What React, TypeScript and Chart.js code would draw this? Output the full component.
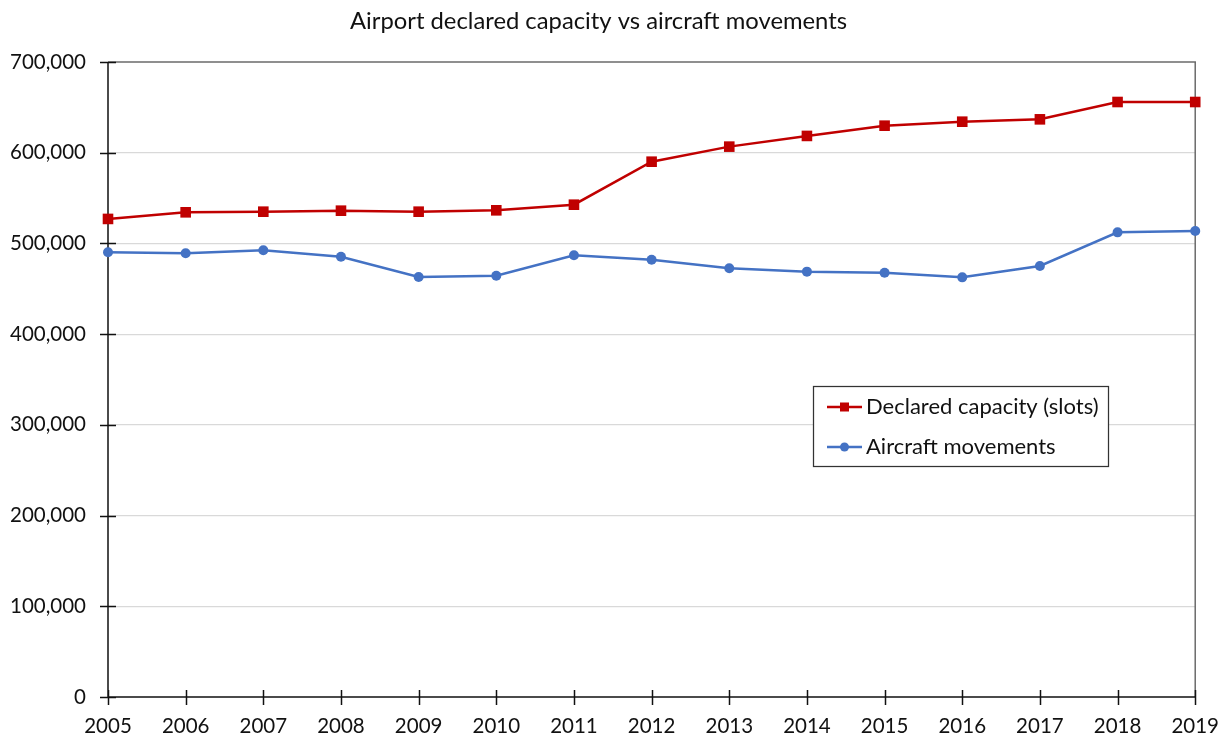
import React, { useEffect, useRef } from "react";
import { Chart, registerables } from "chart.js";

Chart.register(...registerables);

// Years on the horizontal axis
const years = [
  "2005", "2006", "2007", "2008", "2009", "2010", "2011", "2012",
  "2013", "2014", "2015", "2016", "2017", "2018", "2019",
];

// Declared capacity (slots) per year
const declaredCapacity = [
  527000, 534300, 535000, 536100, 535000, 536500, 542700, 590100,
  606700, 618500, 629800, 634200, 636800, 655900, 655900,
];

// Aircraft movements per year
const aircraftMovements = [
  490200, 489100, 492400, 485400, 463000, 464400, 486900, 482100,
  472600, 468900, 467700, 462600, 475100, 512200, 513700,
];

// Value axis range
const yMin = 0;
const yMax = 700000;
const yStep = 100000;

const FONT = "Lato, 'Open Sans', sans-serif";
const TEXT = "#111111";

// Plot frame, with tick marks that cross the axis lines
const framePlugin = {
  id: "frame",
  beforeDatasetsDraw(chart: any) {
    const { ctx, chartArea } = chart;
    const { left, right, top, bottom } = chartArea;
    const xs = chart.scales.x;
    const ys = chart.scales.y;
    ctx.save();
    ctx.lineWidth = 1.5;
    ctx.strokeStyle = "#6b6b6b";
    ctx.beginPath();
    ctx.moveTo(left, top);
    ctx.lineTo(right, top);
    ctx.lineTo(right, bottom);
    ctx.stroke();

    ctx.strokeStyle = "#111111";
    ctx.beginPath();
    ctx.moveTo(left, top);
    ctx.lineTo(left, bottom);
    ctx.lineTo(right, bottom);
    ys.ticks.forEach((t: any) => {
      const y = Math.round(ys.getPixelForValue(t.value)) + 0.5;
      ctx.moveTo(left - 8, y);
      ctx.lineTo(left + 8, y);
    });
    years.forEach((_, i) => {
      const x = Math.round(xs.getPixelForValue(i)) + 0.5;
      ctx.moveTo(x, bottom - 7);
      ctx.lineTo(x, bottom + 8);
    });
    ctx.stroke();
    ctx.restore();
  },
};

// Boxed legend placed inside the plot
const boxLegendPlugin = {
  id: "boxLegend",
  afterDraw(chart: any, _args: any, opts: any) {
    const { ctx } = chart;
    const { left, top, width, height, rowGap, fontSize } = opts;
    ctx.save();
    ctx.fillStyle = "#ffffff";
    ctx.fillRect(left, top, width, height);
    ctx.lineWidth = 1.25;
    ctx.strokeStyle = "#333333";
    ctx.strokeRect(left + 0.5, top + 0.5, width, height);

    ctx.font = `${fontSize}px ${FONT}`;
    ctx.textBaseline = "middle";
    ctx.textAlign = "left";
    chart.data.datasets.forEach((ds: any, i: number) => {
      const cy = top + 21 + i * rowGap;
      const x0 = left + 14;
      const x1 = left + 49;
      ctx.strokeStyle = ds.borderColor;
      ctx.lineWidth = ds.borderWidth;
      ctx.beginPath();
      ctx.moveTo(x0, cy);
      ctx.lineTo(x1, cy);
      ctx.stroke();
      ctx.fillStyle = ds.backgroundColor;
      const cx = (x0 + x1) / 2;
      if (ds.pointStyle === "rect") {
        ctx.fillRect(cx - 4.5, cy - 4.5, 9, 9);
      } else {
        ctx.beginPath();
        ctx.arc(cx, cy, 4.5, 0, Math.PI * 2);
        ctx.fill();
      }
      ctx.fillStyle = TEXT;
      ctx.fillText(ds.label, x1 + 4, cy);
    });
    ctx.restore();
  },
};

export default function App() {
  const canvasRef = useRef<HTMLCanvasElement | null>(null);

  useEffect(() => {
    if (!canvasRef.current) return;
    const chart = new Chart(canvasRef.current, {
      type: "line",
      data: {
        labels: years,
        datasets: [
          {
            label: "Declared capacity (slots)",
            data: declaredCapacity,
            borderColor: "#C00000",
            backgroundColor: "#C00000",
            borderWidth: 2.5,
            pointStyle: "rect",
            pointRadius: 7.5,
            pointBorderWidth: 0,
            tension: 0,
            clip: false,
          } as any,
          {
            label: "Aircraft movements",
            data: aircraftMovements,
            borderColor: "#4472C4",
            backgroundColor: "#4472C4",
            borderWidth: 2.5,
            pointStyle: "circle",
            pointRadius: 5,
            pointBorderWidth: 0,
            tension: 0,
            clip: false,
          } as any,
        ],
      },
      options: {
        animation: false,
        responsive: false,
        devicePixelRatio: 1,
        layout: { padding: { left: 0, right: 31, top: 0, bottom: 0 } },
        plugins: {
          legend: { display: false },
          tooltip: { enabled: false },
          title: {
            display: true,
            text: "Airport declared capacity vs aircraft movements",
            color: TEXT,
            font: { family: FONT, size: 23.8, weight: "normal", lineHeight: 1.2 },
            padding: { top: 7, bottom: 26.44 },
          },
          boxLegend: {
            left: 813,
            top: 386,
            width: 295,
            height: 80,
            rowGap: 40,
            fontSize: 22,
          },
        } as any,
        scales: {
          x: {
            type: "category",
            offset: false,
            grid: { display: false },
            border: { display: false },
            ticks: {
              color: TEXT,
              font: { family: FONT, size: 20.5 },
              padding: 9,
              maxRotation: 0,
              autoSkip: false,
            },
            afterFit(scale: any) {
              scale.height = 43;
            },
          },
          y: {
            min: yMin,
            max: yMax,
            border: { display: false },
            grid: {
              drawTicks: false,
              lineWidth: 1.25,
              color: (c: any) =>
                c.tick && (c.tick.value === yMin || c.tick.value === yMax)
                  ? "rgba(0,0,0,0)"
                  : "#d9d9d9",
            },
            ticks: {
              stepSize: yStep,
              color: TEXT,
              font: { family: FONT, size: 20.5 },
              padding: 22,
              callback: (v: any) => Number(v).toLocaleString("en-US"),
            },
            afterFit(scale: any) {
              scale.width = 108;
            },
          },
        },
      },
      plugins: [framePlugin, boxLegendPlugin],
    });
    return () => chart.destroy();
  }, []);

  return (
    <div style={{ position: "absolute", left: 0, top: 0, width: 1228, height: 740, background: "#fff", overflow: "hidden" }}>
      <canvas ref={canvasRef} width={1228} height={740} style={{ display: "block" }} />
    </div>
  );
}
